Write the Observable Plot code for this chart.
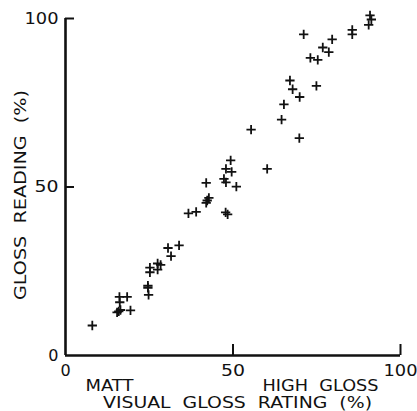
<!DOCTYPE html>
<html><head><meta charset="utf-8">
<script src="https://cdn.jsdelivr.net/npm/d3@7"></script>
<script src="https://cdn.jsdelivr.net/npm/@observablehq/plot@0.6"></script>
<style>html,body{margin:0;padding:0;background:#fff} svg{display:block}</style>
</head><body><div id="chart"></div>
<script>
// Visual gloss rating (%) vs gloss reading (%)
const visualRating = [8.0,16.1,18.4,16.2,15.4,15.9,16.4,19.4,24.6,24.6,24.8,25.2,25.2,27.5,28.4,27.5,30.6,33.9,31.5,36.7,39.0,42.0,42.8,42.3,42.0,47.9,49.6,49.3,47.3,47.9,51.0,47.8,48.4,55.4,60.2,64.5,65.2,67.0,67.8,69.9,69.8,71.1,73.1,75.3,74.9,76.8,78.6,79.6,85.6,85.6,90.9,91.3,90.5];
const glossReading = [8.9,17.4,17.4,15.8,12.8,13.1,13.5,13.4,20.7,20.1,18.0,26.1,24.7,27.3,26.9,25.5,31.9,32.7,29.5,42.2,42.6,51.2,46.8,46.0,45.3,55.4,54.5,57.9,52.4,51.4,50.1,42.5,41.9,67.0,55.4,70.0,74.5,81.6,79.0,76.7,64.5,95.3,88.3,87.7,80.0,91.4,90.0,93.8,96.6,95.3,100.9,99.7,98.1];
const xTicks = [0, 50, 100];
const yTicks = [0, 50, 100];
const xTitle = "VISUAL  GLOSS  RATING  (%)";
const yTitle = "GLOSS  READING  (%)";
const lowLabel = "MATT";
const highLabel = "HIGH  GLOSS";

const points = visualRating.map((v, i) => ({x: v, y: glossReading[i]}));

const W = 417, H = 411, mL = 65, mR = 17, mT = 18, mB = 56;
const plotW = W - mL - mR, plotH = H - mT - mB;

const chart = Plot.plot({
  width: W, height: H,
  marginLeft: mL, marginRight: mR, marginTop: mT, marginBottom: mB,
  style: {fontFamily: "DejaVu Sans", fontSize: "16px", color: "#111", background: "#fff"},
  x: {domain: [0, 100], axis: null},
  y: {domain: [0, 100], axis: null},
  marks: [
    Plot.ruleX([0], {y1: 0, y2: 100, strokeWidth: 2.6, stroke: "#111"}),
    Plot.ruleY([0], {x1: 0, x2: 100, strokeWidth: 2.6, stroke: "#111"}),
    Plot.tickY(yTicks.filter(d => d > 0), {y: d => d, insetRight: plotW - 9, strokeWidth: 2, stroke: "#111"}),
    Plot.tickX(xTicks.filter(d => d > 0), {x: d => d, insetTop: plotH - 11, strokeWidth: 2, stroke: "#111"}),
    Plot.axisY(yTicks, {tickSize: 0, tickPadding: 7, tickFormat: d => d, label: null, fontSize: 16}),
    Plot.axisX(xTicks, {tickSize: 0, tickPadding: 9, tickFormat: d => d, label: null, fontSize: 16}),
    Plot.dot(points, {x: "x", y: "y", symbol: "plus", r: 3.1, stroke: "#111", strokeWidth: 1.8}),
    Plot.text([lowLabel], {text: d => d, frameAnchor: "bottom-left", dx: 44, dy: 35, textAnchor: "middle", lineAnchor: "bottom", fontSize: 15}),
    Plot.text([highLabel], {text: d => d, frameAnchor: "bottom-left", dx: 255, dy: 35, textAnchor: "middle", lineAnchor: "bottom", fontSize: 15}),
    Plot.text([xTitle], {text: d => d, frameAnchor: "bottom-left", dx: 172, dy: 52, textAnchor: "middle", lineAnchor: "bottom", fontSize: 15}),
    Plot.text([yTitle], {text: d => d, frameAnchor: "left", dx: -45, dy: 8, rotate: -90, textAnchor: "middle", lineAnchor: "middle", fontSize: 16})
  ]
});

// stretch the lettering to the wide lettering of the original drawing
const widths = new Map([[xTitle, 269], [yTitle, 210], [lowLabel, 48], [highLabel, 116], ["100", 34], ["50", 24]]);
d3.select(chart).selectAll("text").each(function() {
  const w = widths.get(this.textContent);
  if (w) d3.select(this).attr("textLength", w).attr("lengthAdjust", "spacingAndGlyphs");
});
document.getElementById("chart").appendChild(chart);
</script>
</body></html>
